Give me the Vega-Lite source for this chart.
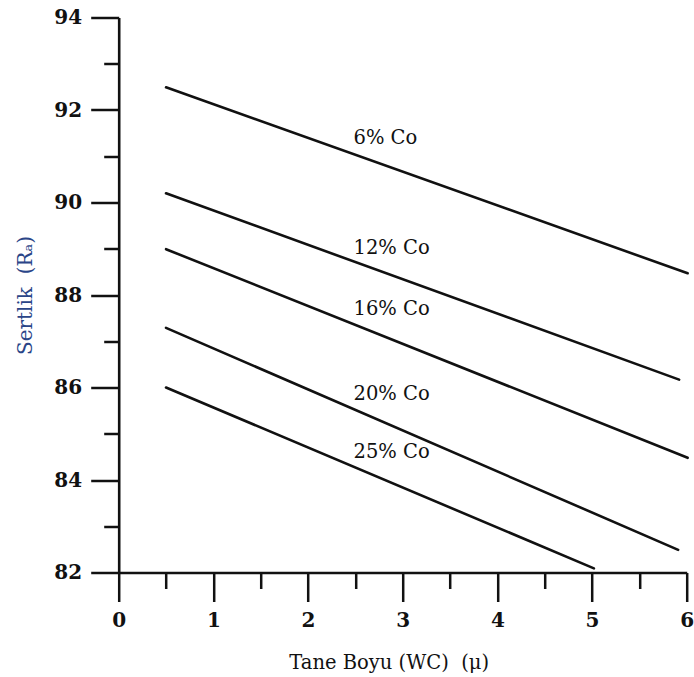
{
  "$schema": "https://vega.github.io/schema/vega-lite/v6.json",
  "autosize": "none",
  "width": 568,
  "height": 555,
  "padding": {"left": 118.7, "top": 17.5, "right": 7.3, "bottom": 104.5},
  "background": "white",
  "config": {"view": {"stroke": null}},
  "datasets": {
    "lines": [
      {"series": "6% Co", "size": 0.5, "hardness": 92.49},
      {"series": "6% Co", "size": 6.01, "hardness": 88.47},
      {"series": "12% Co", "size": 0.5, "hardness": 90.2},
      {"series": "12% Co", "size": 5.92, "hardness": 86.17},
      {"series": "16% Co", "size": 0.5, "hardness": 88.99},
      {"series": "16% Co", "size": 6.01, "hardness": 84.48},
      {"series": "20% Co", "size": 0.5, "hardness": 87.29},
      {"series": "20% Co", "size": 5.91, "hardness": 82.49},
      {"series": "25% Co", "size": 0.5, "hardness": 86.0},
      {"series": "25% Co", "size": 5.02, "hardness": 82.09}
    ],
    "labels": [
      {"label": "6% Co", "size": 2.48, "hardness": 91.39},
      {"label": "12% Co", "size": 2.48, "hardness": 89.01},
      {"label": "16% Co", "size": 2.48, "hardness": 87.69},
      {"label": "20% Co", "size": 2.48, "hardness": 85.87},
      {"label": "25% Co", "size": 2.48, "hardness": 84.61}
    ]
  },
  "resolve": {"axis": {"x": "independent", "y": "independent"}},
  "layer": [
    {
      "data": {"name": "lines"},
      "mark": {"type": "line", "color": "#111111", "strokeWidth": 2.6, "strokeCap": "round"},
      "encoding": {
        "x": {
          "field": "size", "type": "quantitative",
          "scale": {"domain": [0, 6], "nice": false, "zero": false},
          "axis": {
            "orient": "bottom",
            "title": "Tane Boyu (WC)\u00a0\u00a0(μ)",
            "titleFont": "DejaVu Serif", "titleFontSize": 19.5, "titleFontWeight": "normal", "titleColor": "#111111",
            "titleAnchor": "middle", "titleX": 270, "titleY": 90, "titleBaseline": "middle",
            "values": [0, 1, 2, 3, 4, 5, 6],
            "format": "d",
            "labelFont": "DejaVu Serif", "labelFontSize": 20, "labelFontWeight": "bold", "labelColor": "#111111",
            "labelPadding": 9, "labelFlush": false, "labelOverlap": false,
            "tickSize": 29,
            "tickWidth": 2.5, "tickColor": "#111111",
            "domainWidth": 2.6, "domainColor": "#111111",
            "grid": false
          }
        },
        "y": {
          "field": "hardness", "type": "quantitative",
          "scale": {"domain": [82, 94], "nice": false, "zero": false},
          "axis": {
            "orient": "left",
            "title": "Sertlik\u00a0\u00a0(Rₐ)",
            "titleFont": "DejaVu Serif", "titleFontSize": 20, "titleFontWeight": "normal", "titleColor": "#2a4588",
            "titleX": -93, "titleY": 277.5, "titleBaseline": "middle", "titleAnchor": "middle", "titleAngle": -90,
            "values": [82, 84, 86, 88, 90, 92, 94],
            "format": "d",
            "labelFont": "DejaVu Serif", "labelFontSize": 20, "labelFontWeight": "bold", "labelColor": "#111111",
            "labelPadding": 9, "labelFlush": false, "labelOverlap": false,
            "tickSize": 28,
            "tickWidth": 2.5, "tickColor": "#111111",
            "domainWidth": 2.6, "domainColor": "#111111",
            "grid": false
          }
        },
        "detail": {"field": "series", "type": "nominal"}
      }
    },
    {
      "data": {"name": "labels"},
      "mark": {"type": "text", "align": "left", "baseline": "middle", "font": "DejaVu Serif", "fontSize": 19.5, "color": "#111111"},
      "encoding": {
        "x": {
          "field": "size", "type": "quantitative",
          "scale": {"domain": [0, 6], "nice": false, "zero": false},
          "axis": {
            "orient": "bottom",
            "title": null,
            "values": [0.5, 1.5, 2.5, 3.5, 4.5, 5.5],
            "labels": false,
            "domain": false,
            "tickSize": 16,
            "tickWidth": 2.5, "tickColor": "#111111",
            "grid": false
          }
        },
        "y": {
          "field": "hardness", "type": "quantitative",
          "scale": {"domain": [82, 94], "nice": false, "zero": false},
          "axis": {
            "orient": "left",
            "title": null,
            "values": [83, 85, 87, 89, 91, 93],
            "labels": false,
            "domain": false,
            "tickSize": 15,
            "tickWidth": 2.5, "tickColor": "#111111",
            "grid": false
          }
        },
        "text": {"field": "label"}
      }
    }
  ]
}
